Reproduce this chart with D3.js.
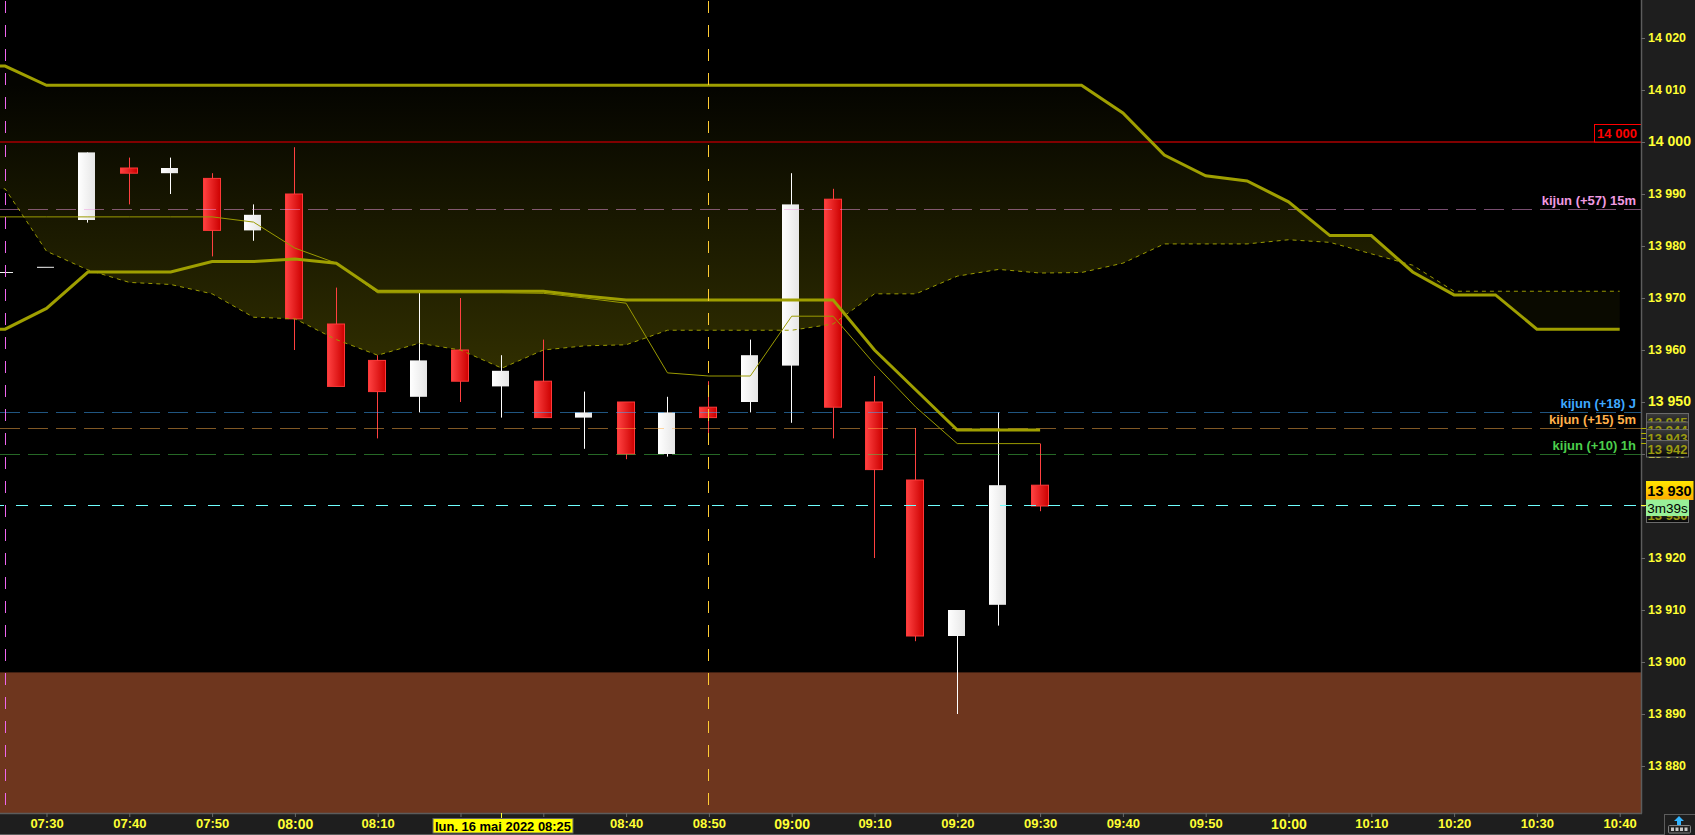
<!DOCTYPE html>
<html>
<head>
<meta charset="utf-8">
<script src="https://cdn.jsdelivr.net/npm/d3@7"></script>
<style>
html,body{margin:0;padding:0;background:#000;overflow:hidden}
svg{display:block}
text{font-family:"Liberation Sans",Arial,sans-serif}
</style>
</head>
<body>
<div id="chart"></div>
<script>
// ---- data ----
const candleTimes = ["07:25","07:30","07:35","07:40","07:45","07:50","07:55","08:00","08:05","08:10","08:15","08:20","08:25","08:30","08:35","08:40","08:45","08:50","08:55","09:00","09:05","09:10","09:15","09:20","09:25","09:30"];
const opens  = [13975,13976,13985,13995,13994,13993,13983,13990,13965,13958,13951,13960,13953,13954,13947,13950,13940,13949,13950,13957,13989,13950,13935,13905,13911,13934];
const highs  = [13975.5,13976,13998,13997,13997,13994,13988,13999,13972,13959,13971,13970,13959,13962,13952,13950,13951,13954,13962,13994,13991,13955,13945,13910,13948,13942];
const lows   = [13974.5,13976,13984.5,13988,13990,13978,13981,13960,13953,13943,13948,13950,13947,13947,13941,13939,13939.5,13944,13948,13946,13943,13920,13904,13890,13907,13929];
const closes = [13975,13976,13998,13994,13995,13983,13986,13966,13953,13952,13958,13954,13956,13947,13948,13940,13948,13947,13959,13988,13949,13937,13905,13910,13934,13930];

const cloudTimes = ["07:20","07:25","07:30","07:35","07:40","07:45","07:50","07:55","08:00","08:05","08:10","08:15","08:20","08:25","08:30","08:35","08:40","08:45","08:50","08:55","09:00","09:05","09:10","09:15","09:20","09:25","09:30","09:35","09:40","09:45","09:50","09:55","10:00","10:05","10:10","10:15","10:20","10:25","10:30","10:35","10:40"];
const cloudUpper = [14014.6,14014.6,14010.9,14010.9,14010.9,14010.9,14010.9,14010.9,14010.9,14010.9,14010.9,14010.9,14010.9,14010.9,14010.9,14010.9,14010.9,14010.9,14010.9,14010.9,14010.9,14010.9,14010.9,14010.9,14010.9,14010.9,14010.9,14010.9,14005.6,13997.5,13993.5,13992.5,13988.5,13982,13982,13975,13970.6,13970.6,13964,13964,13964];
const cloudLower = [13991,13991,13979,13975.4,13973,13972.6,13970.8,13966.3,13966,13962,13959,13961.3,13960,13956.5,13960,13960.8,13961,13963.8,13963.8,13963.8,13963.8,13965,13970.8,13970.8,13974.2,13975.5,13974.8,13974.9,13976.7,13980.4,13980.4,13980.4,13981.2,13980.7,13978.5,13976.3,13971.3,13971.3,13971.3,13971.3,13971.3];

const lineTimes = ["07:20","07:25","07:30","07:35","07:40","07:45","07:50","07:55","08:00","08:05","08:10","08:15","08:20","08:25","08:30","08:35","08:40","08:45","08:50","08:55","09:00","09:05","09:10","09:15","09:20","09:25","09:30"];
const thickLine = [13964,13964,13968,13975,13975,13975,13977,13977,13977.5,13976.7,13971.3,13971.3,13971.3,13971.3,13971.3,13970.4,13969.6,13969.6,13969.6,13969.6,13969.6,13969.6,13960,13952.3,13944.6,13944.6,13944.6];
const thinLine  = [13985.6,13985.6,13985.6,13985.6,13985.6,13985.6,13985.6,13984.6,13979.6,13976.7,13971,13971,13971,13971,13970.9,13970,13969,13955.6,13955,13955,13966.5,13966.5,13957.3,13949,13942,13942,13942];

const priceTicks = [14020,14010,14000,13990,13980,13970,13960,13950,13940,13930,13920,13910,13900,13890,13880];
const boldPrices = [14000,13950];
const hiddenPriceTicks = [13930];
const timeTicks = ["07:30","07:40","07:50","08:00","08:10","08:20","08:30","08:40","08:50","09:00","09:10","09:20","09:30","09:40","09:50","10:00","10:10","10:20","10:30","10:40"];
const boldTimes = ["08:00","09:00","10:00"];
const coveredTimes = ["08:20","08:30"];

const kijunLabels = ["kijun (+57) 15m","kijun (+18) J","kijun (+15) 5m","kijun (+10) 1h"];
const kijunPrices = [13987,13948,13945,13940];
const kijunColors = ["#f09ae0","#3fa9ff","#ffb04a","#4ccf4c"];

const levelPrice = 14000;
const lastPrice = 13930;
const zoneTop = 13898;
const markerTimes = ["07:25","08:50"];
const cursorTime = "08:25";
const cursorLabel = "lun. 16 mai 2022 08:25";
const timerLabel = "3m39s";
const tagPrices = [13945,13944,13943,13942];
const tagTops = [413.5,422,429.5,440.5];

// ---- layout ----
const W = 1695, H = 835, plotR = 1641, plotB = 813;
const parseT = d3.timeParse("%H:%M");
const x = d3.scaleTime().domain([parseT("07:30"),parseT("10:40")]).range([46.5,1619.7]);
const y = d3.scaleLinear().domain([14000,13950]).range([142,402]);
const fmt = d3.formatLocale({decimal:".",thousands:" ",grouping:[3],currency:["",""]}).format(",d");
const crisp = v => Math.floor(v)+0.5;

const svg = d3.select("#chart").append("svg").attr("width",W).attr("height",H);
const defs = svg.append("defs");

function hGrad(id,a,b){const g=defs.append("linearGradient").attr("id",id);g.append("stop").attr("offset",0).attr("stop-color",a);g.append("stop").attr("offset",1).attr("stop-color",b);}
function vGrad(id,a,b){const g=defs.append("linearGradient").attr("id",id).attr("x1",0).attr("x2",0).attr("y1",0).attr("y2",1);g.append("stop").attr("offset",0).attr("stop-color",a);g.append("stop").attr("offset",1).attr("stop-color",b);}
hGrad("redBody","#ff4242","#cc0000");
hGrad("whiteBody","#ffffff","#e6e6e6");
vGrad("goldTag","#ffe600","#ffab00");
vGrad("darkTag","#3c3c3c","#050505");
const cg = defs.append("linearGradient").attr("id","cloudFill").attr("gradientUnits","userSpaceOnUse")
  .attr("x1",0).attr("x2",0).attr("y1",y(14011)).attr("y2",y(13956.5));
cg.append("stop").attr("offset",0).attr("stop-color","#040400");
cg.append("stop").attr("offset",1).attr("stop-color","#302e00");

// plot clip
defs.append("clipPath").attr("id","plot").append("rect").attr("x",0).attr("y",0).attr("width",plotR).attr("height",plotB);

svg.append("rect").attr("width",W).attr("height",H).attr("fill","#000");
const plot = svg.append("g").attr("clip-path","url(#plot)");

// brown zone
plot.append("rect").attr("x",0).attr("width",plotR).attr("y",y(zoneTop)).attr("height",plotB-y(zoneTop)).attr("fill","#6e361e");

// cloud: the two parts either side of the crossing
const cloud = cloudTimes.map((t,i)=>({t:parseT(t),u:cloudUpper[i],l:cloudLower[i]}));
let crossX = plotR;
for(let i=cloud.length-1;i>0;i--){
  const d0=cloud[i-1].u-cloud[i-1].l, d1=cloud[i].u-cloud[i].l;
  if(d0>0 && d1<=0){const f=d0/(d0-d1);crossX=x(cloud[i-1].t)+f*(x(cloud[i].t)-x(cloud[i-1].t));break;}
}
defs.append("clipPath").attr("id","cA").append("rect").attr("x",-50).attr("y",0).attr("width",crossX+50).attr("height",plotB);
defs.append("clipPath").attr("id","cB").append("rect").attr("x",crossX).attr("y",0).attr("width",plotR-crossX).attr("height",plotB);
const area = d3.area().x(d=>x(d.t)).y0(d=>y(d.l)).y1(d=>y(d.u));
plot.append("path").datum(cloud).attr("d",area).attr("fill","url(#cloudFill)").attr("clip-path","url(#cA)");
plot.append("path").datum(cloud).attr("d",area).attr("fill","#0a0a00").attr("clip-path","url(#cB)");

// candles
const candles = candleTimes.map((t,i)=>({t:parseT(t),o:opens[i],h:highs[i],l:lows[i],c:closes[i],up:closes[i]>=opens[i]}));
const cg2 = plot.append("g");
cg2.selectAll("line.w").data(candles).join("line").attr("class","w")
  .attr("x1",d=>crisp(x(d.t))).attr("x2",d=>crisp(x(d.t))).attr("y1",d=>y(d.h)).attr("y2",d=>y(d.l))
  .attr("stroke",d=>d.up?"#ffffff":"#ff4040").attr("stroke-width",1);
cg2.selectAll("rect.b").data(candles).join("rect").attr("class","b")
  .attr("x",d=>d.up?Math.floor(x(d.t))-9:Math.floor(x(d.t))-8.5)
  .attr("width",17)
  .attr("y",d=>y(Math.max(d.o,d.c))).attr("height",d=>Math.max(1,Math.abs(y(d.o)-y(d.c))))
  .attr("fill",d=>d.up?"url(#whiteBody)":"url(#redBody)")
  .attr("stroke",d=>d.up?"none":"#ff3838").attr("stroke-width",1);

// kijun dashed levels
kijunPrices.forEach((p,i)=>{
  plot.append("line").attr("x1",0).attr("x2",plotR).attr("y1",crisp(y(p))).attr("y2",crisp(y(p)))
    .attr("stroke",kijunColors[i]).attr("stroke-opacity",0.5).attr("stroke-dasharray","20 8");
});

// 14 000 level
plot.append("line").attr("x1",0).attr("x2",plotR).attr("y1",y(levelPrice)).attr("y2",y(levelPrice)).attr("stroke","#800000").attr("stroke-width",2);

// cloud and indicator lines
const lineGen = (acc)=>d3.line().x(d=>x(d.t)).y(acc);
plot.append("path").datum(cloud).attr("d",lineGen(d=>y(d.l))).attr("fill","none").attr("stroke","#9a9a00").attr("stroke-width",1).attr("stroke-dasharray","4 4");
const lineData = lineTimes.map((t,i)=>({t:parseT(t),a:thickLine[i],b:thinLine[i]}));
plot.append("path").datum(lineData).attr("d",lineGen(d=>y(d.b))).attr("fill","none").attr("stroke","#9a9a00").attr("stroke-width",1);
plot.append("path").datum(cloud).attr("d",lineGen(d=>y(d.u))).attr("fill","none").attr("stroke","#9f9f00").attr("stroke-width",3);
plot.append("path").datum(lineData).attr("d",lineGen(d=>y(d.a))).attr("fill","none").attr("stroke","#9f9f00").attr("stroke-width",3);

// last price dashes
plot.append("line").attr("x1",0).attr("x2",plotR).attr("y1",crisp(y(lastPrice))).attr("y2",crisp(y(lastPrice)))
  .attr("stroke","#70ffff").attr("stroke-width",1.2).attr("stroke-dasharray","12 12").attr("stroke-dashoffset",8);

// vertical markers
markerTimes.forEach((t,i)=>{
  plot.append("line").attr("x1",crisp(x(parseT(t)))).attr("x2",crisp(x(parseT(t)))).attr("y1",1).attr("y2",plotB)
    .attr("stroke",i===0?"#ee66ee":"#ffcc33").attr("stroke-dasharray","12 12");
});

// level box
plot.append("rect").attr("x",1594.5).attr("y",124.5).attr("width",47).attr("height",17.5).attr("fill","#000").attr("stroke","#ff0000");
svg.append("text").attr("x",1617).attr("y",138).attr("text-anchor","middle").attr("fill","#ff0000").attr("font-size",13).attr("font-weight","bold").text(fmt(levelPrice));

// kijun labels
kijunLabels.forEach((s,i)=>{
  svg.append("text").attr("x",1636).attr("y",crisp(y(kijunPrices[i]))-5).attr("text-anchor","end")
    .attr("fill",kijunColors[i]).attr("font-size",13).attr("font-weight","bold").text(s);
});

// axis panels
svg.append("rect").attr("x",plotR).attr("y",0).attr("width",W-plotR).attr("height",H).attr("fill","#1e1e1e");
svg.append("rect").attr("x",0).attr("y",plotB).attr("width",W).attr("height",H-plotB).attr("fill","#1e1e1e");
svg.append("line").attr("x1",plotR+0.5).attr("x2",plotR+0.5).attr("y1",0).attr("y2",plotB+0.5).attr("stroke","#5c5c5c").attr("stroke-width",1.5);
svg.append("line").attr("x1",0).attr("x2",plotR+1).attr("y1",plotB+0.5).attr("y2",plotB+0.5).attr("stroke","#5c5c5c").attr("stroke-width",1.5);
svg.append("line").attr("x1",0).attr("x2",1664).attr("y1",834.5).attr("y2",834.5).attr("stroke","#5c5c5c");

// price axis
const yAxis = d3.axisRight(y).tickValues(priceTicks).tickSize(4).tickPadding(3).tickFormat(d=>fmt(d));
const gy = svg.append("g").attr("transform",`translate(${plotR},0)`).call(yAxis);
gy.select(".domain").remove();
gy.selectAll("line").attr("stroke","#6a6a6a");
gy.selectAll("text").attr("fill","#ffff33").attr("font-family",'"Liberation Sans",Arial,sans-serif')
  .attr("font-weight","bold").attr("y",-1).attr("textLength",d=>boldPrices.includes(d)?43:38).attr("lengthAdjust","spacingAndGlyphs")
  .attr("font-size",d=>boldPrices.includes(d)?14.5:13.5);
gy.selectAll(".tick").filter(d=>hiddenPriceTicks.includes(d)).select("text").text("");

// time axis
const xAxis = d3.axisBottom(x).tickValues(timeTicks.map(parseT)).tickSize(4).tickPadding(2)
  .tickFormat(d=>{const s=d3.timeFormat("%H:%M")(d);return coveredTimes.includes(s)?"":s;});
const gx = svg.append("g").attr("transform",`translate(0,${plotB})`).call(xAxis);
gx.select(".domain").remove();
gx.selectAll("line").attr("stroke","#6a6a6a");
gx.selectAll("text").attr("fill","#ffff33").attr("font-family",'"Liberation Sans",Arial,sans-serif')
  .attr("font-weight","bold")
  .attr("font-size",d=>boldTimes.includes(d3.timeFormat("%H:%M")(d))?14:13);

// cursor date box
const cx = x(parseT(cursorTime));
svg.append("line").attr("x1",crisp(cx)).attr("x2",crisp(cx)).attr("y1",plotB).attr("y2",818).attr("stroke","#ffff33");
svg.append("rect").attr("x",433).attr("y",818.5).attr("width",140).attr("height",14.5).attr("fill","#ffff00").attr("stroke","#666");
svg.append("text").attr("x",503).attr("y",830.5).attr("text-anchor","middle").attr("fill","#000").attr("font-size",13.5).attr("font-weight","bold").attr("textLength",136).attr("lengthAdjust","spacingAndGlyphs").text(cursorLabel);

// stacked price tags
tagPrices.forEach(p=>{
  svg.append("line").attr("x1",plotR).attr("x2",1647).attr("y1",crisp(y(p))).attr("y2",crisp(y(p))).attr("stroke","#b0b000");
});
tagPrices.forEach((p,i)=>{
  svg.append("rect").attr("x",1646.5).attr("y",tagTops[i]).attr("width",42).attr("height",16.5).attr("fill","url(#darkTag)").attr("stroke","#6a6a6a");
  svg.append("text").attr("x",1667.5).attr("y",tagTops[i]+13).attr("text-anchor","middle").attr("fill","#9a9a10").attr("font-size",13).attr("font-weight","bold").text(fmt(p));
});
svg.append("line").attr("x1",plotR).attr("x2",1647).attr("y1",crisp(y(lastPrice))).attr("y2",crisp(y(lastPrice))).attr("stroke","#ffff33");
svg.append("rect").attr("x",1646.5).attr("y",506.5).attr("width",42).attr("height",16).attr("fill","url(#darkTag)").attr("stroke","#6a6a6a");
svg.append("text").attr("x",1667.5).attr("y",519.5).attr("text-anchor","middle").attr("fill","#9a9a10").attr("font-size",13).attr("font-weight","bold").text(fmt(lastPrice));
svg.append("rect").attr("x",1646).attr("y",481).attr("width",47.5).attr("height",19).attr("fill","url(#goldTag)");
svg.append("text").attr("x",1669.5).attr("y",495.5).attr("text-anchor","middle").attr("fill","#000").attr("font-size",14.5).attr("font-weight","bold").text(fmt(lastPrice));
svg.append("rect").attr("x",1646).attr("y",499.5).attr("width",43).attr("height",16.5).attr("fill","#98f098");
svg.append("text").attr("x",1667.5).attr("y",512.5).attr("text-anchor","middle").attr("fill","#000").attr("font-size",13.5).text(timerLabel);

// corner button
const btn = svg.append("g");
btn.append("rect").attr("x",1664.5).attr("y",814.5).attr("width",31).attr("height",21).attr("fill","#1e1e1e").attr("stroke","#5c5c5c");
btn.append("path").attr("d","M1679 816 L1684 821 L1681 821 L1681 825 L1677 825 L1677 821 L1674 821 Z").attr("fill","#33b5ff");
btn.append("rect").attr("x",1668.5).attr("y",825.5).attr("width",22).attr("height",7.5).attr("rx",1).attr("fill","#222").attr("stroke","#808080");
[0,1,2,3].forEach(i=>btn.append("rect").attr("x",1671+i*4.5).attr("y",827.5).attr("width",3).attr("height",3.5).attr("fill","#c8c8c8"));
</script>
</body>
</html>
